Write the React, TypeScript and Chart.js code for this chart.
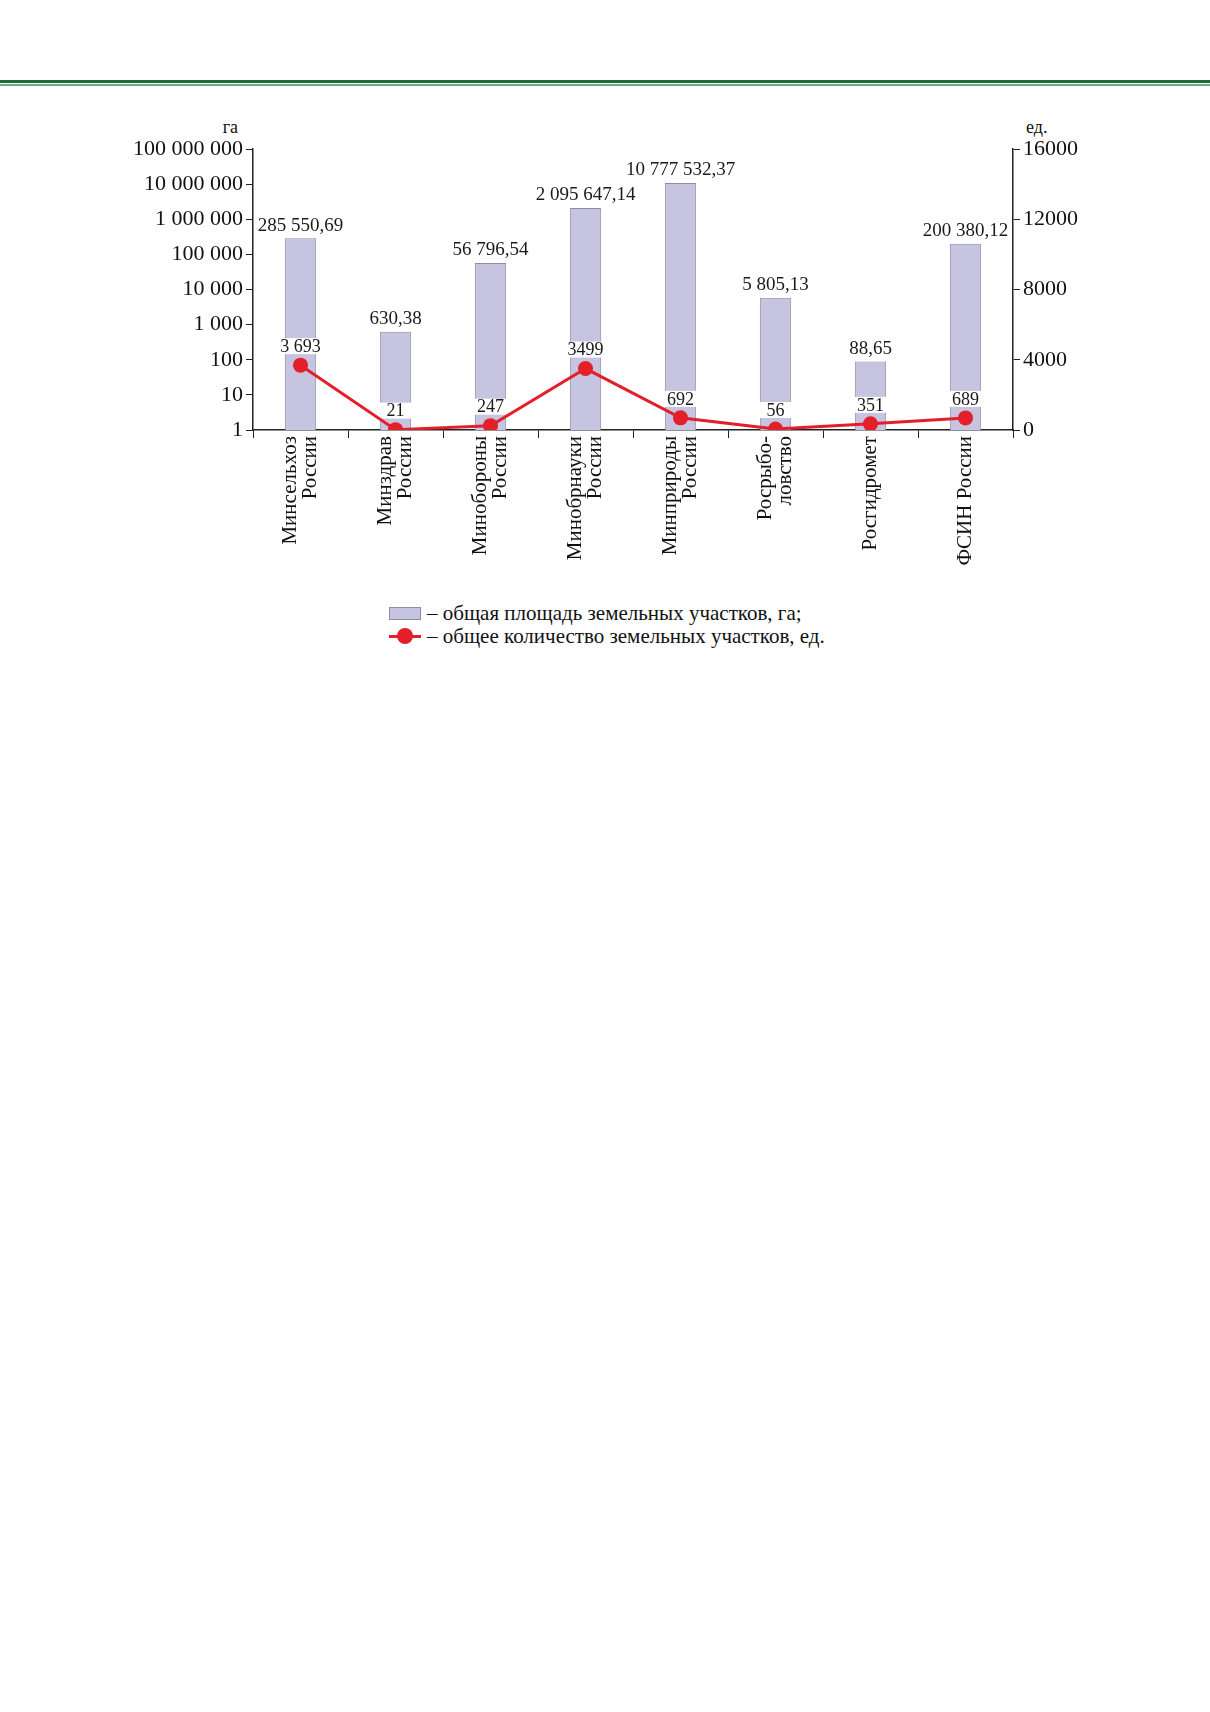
import React, { useEffect, useRef } from "react";
import { Chart, registerables } from "chart.js";

Chart.register(...registerables);

// categories (multi-line labels)
const categories: string[][] = [
  ["Минсельхоз", "России"],
  ["Минздрав", "России"],
  ["Минобороны", "России"],
  ["Минобрнауки", "России"],
  ["Минприроды", "России"],
  ["Росрыбо-", "ловство"],
  ["Росгидромет"],
  ["ФСИН России"],
];

// total area, ha (log axis)
const areaValues = [285550.69, 630.38, 56796.54, 2095647.14, 10777532.37, 5805.13, 88.65, 200380.12];
const areaLabels = ["285 550,69", "630,38", "56 796,54", "2 095 647,14", "10 777 532,37", "5 805,13", "88,65", "200 380,12"];

// number of plots, units
const countValues = [3693, 21, 247, 3499, 692, 56, 351, 689];
const countLabels = ["3 693", "21", "247", "3499", "692", "56", "351", "689"];

const leftTicks = [1, 10, 100, 1000, 10000, 100000, 1000000, 10000000, 100000000];
const rightTicks = [0, 4000, 8000, 12000, 16000];

const SERIF = "'Liberation Serif', 'DejaVu Serif', serif";
const BAR_FILL = "#c6c4e1";
const BAR_BORDER = "#8e8ca3";
const RED = "#e3202a";

const fmtSpaces = (v: number) => String(v).replace(/\B(?=(\d{3})+(?!\d))/g, " ");

const labelsPlugin = {
  id: "valueLabels",
  afterDatasetDraw(chart: any, args: any) {
    if (args.index !== 0) return;
    const ctx = chart.ctx;
    const barMeta = chart.getDatasetMeta(0);
    const lineMeta = chart.getDatasetMeta(1);
    ctx.save();
    ctx.font = `19px ${SERIF}`;
    ctx.textAlign = "center";
    ctx.fillStyle = "#1a1a1a";
    barMeta.data.forEach((bar: any, i: number) => {
      ctx.textBaseline = "bottom";
      ctx.fillText(areaLabels[i], bar.x, bar.y - 3);
    });
    ctx.font = `18px ${SERIF}`;
    lineMeta.data.forEach((pt: any, i: number) => {
      const bar = barMeta.data[i];
      const cy = pt.y - 19;
      const w = Math.max(ctx.measureText(countLabels[i]).width + 4, bar.width + 2);
      ctx.fillStyle = "#ffffff";
      ctx.fillRect(pt.x - w / 2, cy - 8, w, 16);
      ctx.fillStyle = "#1a1a1a";
      ctx.textBaseline = "middle";
      ctx.fillText(countLabels[i], pt.x, cy + 1);
    });
    ctx.restore();
  },
  afterDraw(chart: any) {
    // rotated category labels, line pairs centred on the tick
    const ctx = chart.ctx;
    const xs = chart.scales.x;
    const lh = 19.5;
    ctx.save();
    ctx.font = `21px ${SERIF}`;
    ctx.fillStyle = "#111";
    ctx.textAlign = "right";
    ctx.textBaseline = "middle";
    categories.forEach((lines, i) => {
      const cx = xs.getPixelForValue(i);
      lines.forEach((line, j) => {
        const x = cx + (j - (lines.length - 1) / 2) * lh;
        ctx.save();
        ctx.translate(x, xs.top + 6);
        ctx.rotate(-Math.PI / 2);
        ctx.fillText(line, 0, 0);
        ctx.restore();
      });
    });
    ctx.restore();
  },
};

const App: React.FC = () => {
  const canvasRef = useRef<HTMLCanvasElement | null>(null);

  useEffect(() => {
    if (!canvasRef.current) return;
    const chart = new Chart(canvasRef.current, {
      type: "bar",
      data: {
        labels: categories,
        datasets: [
          {
            type: "bar",
            label: "общая площадь земельных участков, га",
            data: areaValues,
            yAxisID: "y",
            backgroundColor: BAR_FILL,
            borderColor: BAR_BORDER,
            borderWidth: 1,
            barPercentage: 0.33,
            categoryPercentage: 1,
            order: 1,
          },
          {
            type: "line",
            label: "общее количество земельных участков, ед.",
            data: countValues,
            yAxisID: "y1",
            borderColor: RED,
            backgroundColor: RED,
            borderWidth: 3,
            pointRadius: 7.5,
            pointBackgroundColor: RED,
            pointBorderWidth: 0,
            tension: 0,
            order: 0,
          } as any,
        ],
      },
      options: {
        responsive: false,
        animation: false,
        layout: { padding: { top: 49, left: 0, right: 0, bottom: 0 } },
        plugins: { legend: { display: false }, tooltip: { enabled: false } },
        scales: {
          x: {
            offset: true,
            grid: { offset: true, drawOnChartArea: false, tickLength: 8, color: "#222", tickWidth: 1 },
            border: { color: "#222", width: 1.5 },
            ticks: { display: false, autoSkip: false },
            afterFit: (s: any) => {
              s.height = 150;
            },
          },
          y: {
            type: "logarithmic",
            position: "left",
            min: 1,
            max: 100000000,
            grid: { drawOnChartArea: false, tickLength: 7, color: "#222" },
            border: { color: "#222", width: 1.5 },
            afterBuildTicks: (s: any) => {
              s.ticks = leftTicks.map((v) => ({ value: v }));
            },
            ticks: {
              color: "#111",
              padding: 3,
              font: { family: SERIF, size: 22 },
              callback: (v: any) => fmtSpaces(Number(v)),
            },
            afterFit: (s: any) => {
              s.width = 253;
            },
          },
          y1: {
            type: "linear",
            position: "right",
            min: 0,
            max: 16000,
            grid: { drawOnChartArea: false, tickLength: 7, color: "#222" },
            border: { color: "#222", width: 1.5 },
            afterBuildTicks: (s: any) => {
              s.ticks = rightTicks.map((v) => ({ value: v }));
            },
            ticks: {
              color: "#111",
              padding: 3,
              font: { family: SERIF, size: 22 },
              callback: (v: any) => String(v),
            },
            afterFit: (s: any) => {
              s.width = 197;
            },
          },
        },
      },
      plugins: [labelsPlugin],
    });
    return () => chart.destroy();
  }, []);

  const legendText: React.CSSProperties = {
    fontFamily: SERIF,
    fontSize: 21,
    color: "#111",
    marginLeft: 6,
    whiteSpace: "nowrap",
  };

  return (
    <div style={{ position: "absolute", left: 0, top: 0, width: 1210, height: 1712, background: "#fff" }}>
      <div style={{ position: "absolute", left: 0, top: 80, width: 1210, height: 3, background: "#1d6b3a" }} />
      <div style={{ position: "absolute", left: 0, top: 84, width: 1210, height: 2, background: "#6fa883" }} />
      <div style={{ position: "absolute", left: 198, top: 117, width: 40, textAlign: "right", fontFamily: SERIF, fontSize: 18, color: "#111" }}>
        га
      </div>
      <div style={{ position: "absolute", left: 1026, top: 117, fontFamily: SERIF, fontSize: 18, color: "#111" }}>ед.</div>
      <canvas ref={canvasRef} width={1210} height={480} style={{ position: "absolute", left: 0, top: 100, width: 1210, height: 480 }} />
      <div style={{ position: "absolute", left: 389, top: 601, display: "flex", alignItems: "center", height: 24 }}>
        <div style={{ width: 30, height: 11, background: BAR_FILL, border: `1px solid ${BAR_BORDER}` }} />
        <span style={legendText}>– общая площадь земельных участков, га;</span>
      </div>
      <div style={{ position: "absolute", left: 389, top: 624, display: "flex", alignItems: "center", height: 24 }}>
        <div style={{ position: "relative", width: 32, height: 16 }}>
          <div style={{ position: "absolute", left: 0, top: 6.5, width: 32, height: 3, background: RED }} />
          <div style={{ position: "absolute", left: 8, top: 0, width: 16, height: 16, borderRadius: 8, background: RED }} />
        </div>
        <span style={legendText}>– общее количество земельных участков, ед.</span>
      </div>
    </div>
  );
};

export default App;
